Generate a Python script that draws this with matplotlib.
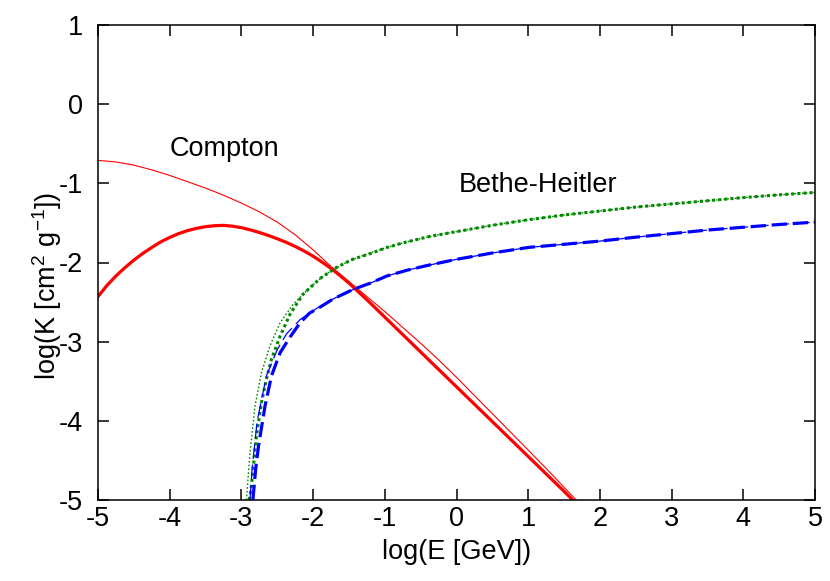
import matplotlib
matplotlib.use("Agg")
import matplotlib.pyplot as plt

plt.rcParams['font.family'] = ['Liberation Sans', 'DejaVu Sans']
plt.rcParams['mathtext.fontset'] = 'custom'
plt.rcParams['mathtext.rm'] = 'Liberation Sans'
plt.rcParams['mathtext.it'] = 'Liberation Sans:italic'
plt.rcParams['axes.unicode_minus'] = False

# ---- data (log E [GeV], log K [cm^2 g^-1]) ----
compton_thick_x = [-5.0, -4.875, -4.75, -4.625, -4.5, -4.375, -4.25, -4.125, -4.0, -3.875, -3.75,
                   -3.625, -3.5, -3.375, -3.25, -3.125, -3.0, -2.875, -2.75, -2.625, -2.5, -2.375,
                   -2.25, -2.125, -2.0, -1.875, -1.75, -1.625, -1.5, -1.375, -1.25, -1.0, -0.75,
                   -0.5, -0.25, 0.0, 0.25, 0.5, 0.75, 1.0, 1.25, 1.5, 1.62]
compton_thick_y = [-2.43, -2.29, -2.17, -2.065, -1.97, -1.885, -1.81, -1.74, -1.683, -1.635, -1.597,
                   -1.568, -1.547, -1.535, -1.531, -1.541, -1.56, -1.588, -1.621, -1.658, -1.70, -1.745,
                   -1.797, -1.855, -1.92, -1.995, -2.075, -2.165, -2.26, -2.365, -2.47, -2.69, -2.91,
                   -3.13, -3.35, -3.57, -3.79, -4.01, -4.23, -4.45, -4.67, -4.89, -5.0]

compton_thin_x = [-5.0, -4.75, -4.5, -4.25, -4.0, -3.75, -3.5, -3.25, -3.0, -2.75, -2.5, -2.25,
                  -2.0, -1.75, -1.5, -1.25, -1.0, -0.75, -0.5, -0.25, 0.0, 0.25, 0.5, 0.75,
                  1.0, 1.25, 1.5, 1.67]
compton_thin_y = [-0.71, -0.73, -0.77, -0.83, -0.90, -0.98, -1.06, -1.15, -1.25, -1.36, -1.49, -1.65,
                  -1.84, -2.05, -2.24, -2.43, -2.62, -2.82, -3.02, -3.23, -3.45, -3.68, -3.91, -4.14,
                  -4.37, -4.60, -4.84, -5.0]

bh_green_thick_x = [-2.89, -2.86, -2.79, -2.72, -2.65, -2.58, -2.46, -2.32, -2.14, -1.90, -1.67,
                    -1.45, -1.21, -0.97, -0.74, -0.37, 0.0, 0.5, 1.0, 1.5, 2.0, 2.5, 3.0, 3.5,
                    4.0, 4.5, 5.0]
bh_green_thick_y = [-5.0, -4.82, -4.19, -3.77, -3.47, -3.22, -2.93, -2.65, -2.40, -2.20, -2.06,
                    -1.96, -1.89, -1.81, -1.75, -1.67, -1.61, -1.53, -1.46, -1.40, -1.35, -1.30,
                    -1.26, -1.22, -1.18, -1.145, -1.115]

bh_green_thin_x = [-2.93, -2.88, -2.81, -2.72, -2.60, -2.46, -2.28, -2.04, -1.81, -1.50, -1.21,
                   -0.97, -0.74, -0.37, 0.0, 0.5, 1.0, 1.5, 2.0, 2.5, 3.0, 3.5, 4.0, 4.5, 5.0]
bh_green_thin_y = [-5.0, -4.40, -3.81, -3.39, -3.05, -2.76, -2.53, -2.31, -2.14, -1.98, -1.88,
                   -1.81, -1.75, -1.67, -1.61, -1.53, -1.46, -1.40, -1.35, -1.30, -1.26, -1.22,
                   -1.18, -1.145, -1.115]

bh_blue_thick_x = [-2.84, -2.80, -2.76, -2.67, -2.58, -2.46, -2.32, -2.18, -2.05, -1.86, -1.72,
                   -1.44, -1.20, -0.97, -0.70, -0.42, 0.0, 0.5, 1.0, 1.5, 2.0, 2.5, 3.0, 3.5,
                   4.0, 4.5, 5.0]
bh_blue_thick_y = [-5.0, -4.60, -4.31, -3.81, -3.43, -3.14, -2.94, -2.76, -2.64, -2.54, -2.46,
                   -2.34, -2.26, -2.17, -2.10, -2.04, -1.96, -1.88, -1.81, -1.77, -1.73, -1.68,
                   -1.635, -1.59, -1.555, -1.52, -1.49]

bh_blue_thin_x = [-2.88, -2.85, -2.78, -2.65, -2.50, -2.37, -2.18, -1.95, -1.72, -1.44, -1.20,
                  -0.97, -0.70, -0.42, 0.0, 0.5, 1.0, 1.5, 2.0, 2.5, 3.0, 3.5, 4.0, 4.5, 5.0]
bh_blue_thin_y = [-5.0, -4.60, -4.00, -3.43, -3.10, -2.90, -2.72, -2.58, -2.46, -2.34, -2.26,
                  -2.17, -2.10, -2.04, -1.96, -1.88, -1.81, -1.77, -1.73, -1.68, -1.635, -1.59,
                  -1.555, -1.52, -1.49]

x_ticks = [-5, -4, -3, -2, -1, 0, 1, 2, 3, 4, 5]
y_ticks = [-5, -4, -3, -2, -1, 0, 1]

label_compton = "Compton"
label_bh = "Bethe-Heitler"

# ---- figure ----
fig = plt.figure(figsize=(8.3, 5.81), dpi=100)
ax = fig.add_axes([98/830, 81/581, 717/830, 475/581])

GREEN = '#008a00'
ax.plot(compton_thin_x, compton_thin_y, color='#ff0000', lw=0.8)
ax.plot(compton_thick_x, compton_thick_y, color='#ff0000', lw=2.3)
ax.plot(bh_green_thin_x, bh_green_thin_y, color=GREEN, lw=1.0, linestyle=(0, (1.2, 1.5)))
ax.plot(bh_green_thick_x, bh_green_thick_y, color=GREEN, lw=2.2, linestyle=(0, (1, 1)))
ax.plot(bh_blue_thin_x, bh_blue_thin_y, color='#0000ff', lw=0.9, linestyle=(0, (12, 4.5)))
ax.plot(bh_blue_thick_x, bh_blue_thick_y, color='#0000ff', lw=2.3, linestyle=(0, (4.8, 1.8)))

ax.set_xlim(-5, 5)
ax.set_ylim(-5, 1)
ax.set_xticks(x_ticks)
ax.set_yticks(y_ticks)
ax.set_xticklabels([str(v) for v in x_ticks])
ax.set_yticklabels([str(v) for v in y_ticks])

fs = 19.5
ax.tick_params(axis='both', which='major', direction='in', length=8, width=1.1,
               top=True, right=True, labelsize=fs, color='black')
ax.tick_params(axis='x', pad=4)
ax.tick_params(axis='y', pad=11)
for s in ax.spines.values():
    s.set_linewidth(1.1)

ax.set_xlabel("log(E [GeV])", fontsize=fs)
ax.xaxis.label.set_va('center')
ax.xaxis.set_label_coords(0.5, -0.11)
ax.set_ylabel(r"log(K [cm$^2$ g$^{-1}$])", fontsize=fs)
ax.yaxis.label.set_va('center')
ax.yaxis.set_label_coords(-0.071, 0.45)

ax.text(-3.24, -0.66, label_compton, fontsize=fs, ha='center', va='baseline')
ax.text(1.14, -1.115, label_bh, fontsize=fs, ha='center', va='baseline')

fig.savefig("out.png", dpi=100)
